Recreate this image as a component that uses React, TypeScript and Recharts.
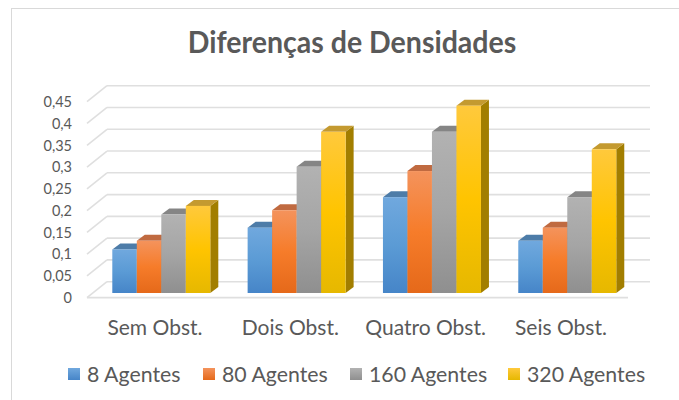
import React from 'react';
import { ComposedChart, Bar, XAxis, YAxis, Legend, CartesianGrid } from 'recharts';

const categories = ['Sem Obst.', 'Dois Obst.', 'Quatro Obst.', 'Seis Obst.'];
const agents8 = [0.1, 0.15, 0.22, 0.12];
const agents80 = [0.12, 0.19, 0.28, 0.15];
const agents160 = [0.18, 0.29, 0.37, 0.22];
const agents320 = [0.2, 0.37, 0.43, 0.33];
const yTicks = [0, 0.05, 0.1, 0.15, 0.2, 0.25, 0.3, 0.35, 0.4, 0.45];

const data = categories.map((name, i) => ({
  name,
  a8: agents8[i],
  a80: agents80[i],
  a160: agents160[i],
  a320: agents320[i],
}));

const seriesList = [
  { key: 'a8', label: '8 Agentes', id: 'gBlue', stops: ['#70a8de', '#5b9bd5', '#4685c8'], top: '#4d7ca8', side: '#3f6d9c' },
  { key: 'a80', label: '80 Agentes', id: 'gOrange', stops: ['#f4935c', '#f67c2a', '#e5691a'], top: '#c06a40', side: '#a8551f' },
  { key: 'a160', label: '160 Agentes', id: 'gGray', stops: ['#b2b2b2', '#a5a5a5', '#8f8f8f'], top: '#858585', side: '#777777' },
  { key: 'a320', label: '320 Agentes', id: 'gGold', stops: ['#ffc93c', '#ffc400', '#e6b800'], top: '#c49a30', side: '#a27e00' },
];

const DX = 8;
const DY = 6;
const GRID = '#dfdfdf';
const TEXT = '#595959';
const FONT = 'Lato, Carlito, sans-serif';

const makeBarShape = (top: string, side: string) => (p: any) => {
  const { x, y, width, height, fill } = p;
  const r = x + width;
  const b = y + height;
  return (
    <g>
      <polygon points={`${r},${y} ${r + DX},${y - DY} ${r + DX},${b - DY} ${r},${b}`} fill={side} />
      <polygon points={`${x},${y} ${x + DX},${y - DY} ${r + DX},${y - DY} ${r},${y}`} fill={top} />
      <rect x={x} y={y} width={width} height={height} fill={fill} />
    </g>
  );
};

const GridLine = (p: any) => {
  const y = p.y1;
  const front = y + 4.7;
  const back = y - 11.3;
  const isFloor = Math.abs(y - 293) < 1;
  return (
    <g key={`grid-${y}`}>
      <line x1={87} y1={front} x2={107} y2={back} stroke={GRID} strokeWidth={1.6} />
      <line x1={107} y1={back} x2={650} y2={back} stroke={GRID} strokeWidth={1.6} />
      {isFloor && <line x1={87} y1={front} x2={628} y2={front} stroke={GRID} strokeWidth={1.8} />}
    </g>
  );
};

const YTick = (p: any) => {
  const { y, payload } = p;
  return (
    <text x={72} y={y + 4.5} textAnchor="end" dominantBaseline="central" fontSize={14.5} fontFamily={FONT} fill={TEXT}>
      {String(payload.value).replace('.', ',')}
    </text>
  );
};

const LegendContent = () => (
  <div style={{ position: 'relative', height: 30, fontFamily: FONT, fontSize: 21.3, color: TEXT }}>
    {seriesList.map((s, i) => (
      <div
        key={s.key}
        style={{
          position: 'absolute',
          left: [68, 203, 350, 508][i],
          top: 0,
          display: 'flex',
          alignItems: 'center',
          height: 30,
          whiteSpace: 'nowrap',
        }}
      >
        <span
          style={{
            display: 'inline-block',
            width: 12,
            height: 12,
            marginRight: 7,
            background: `linear-gradient(${s.stops[0]}, ${s.stops[2]})`,
          }}
        />
        {s.label}
      </div>
    ))}
  </div>
);

export default function App() {
  return (
    <div style={{ position: 'absolute', left: 0, top: 0, width: 679, height: 400, background: '#fff', overflow: 'hidden' }}>
      <div
        style={{
          position: 'absolute',
          left: 11,
          top: 8,
          width: 700,
          height: 420,
          borderLeft: '1.5px solid #d9d9d9',
          borderTop: '1.5px solid #d9d9d9',
        }}
      />
      <div
        style={{
          position: 'absolute',
          left: 0,
          top: 21,
          width: 704,
          textAlign: 'center',
          fontFamily: FONT,
          fontWeight: 700,
          fontSize: 31,
          lineHeight: '40px',
          color: TEXT,
          transform: 'scaleX(0.92)',
        }}
      >
        Diferenças de Densidades
      </div>
      <div style={{ position: 'absolute', left: 0, top: 0 }}>
        <ComposedChart
          width={679}
          height={400}
          data={data}
          barGap={0}
          barSize={24.5}
          margin={{ top: 97, right: 44.4, bottom: 37, left: 3.3 }}
        >
          <defs>
            {seriesList.map((s) => (
              <linearGradient key={s.id} id={s.id} x1="0" y1="0" x2="0" y2="1">
                <stop offset="0%" stopColor={s.stops[0]} />
                <stop offset="50%" stopColor={s.stops[1]} />
                <stop offset="100%" stopColor={s.stops[2]} />
              </linearGradient>
            ))}
          </defs>
          <CartesianGrid vertical={false} horizontal={GridLine} />
          <YAxis
            width={90}
            domain={[0, 0.45]}
            ticks={yTicks}
            interval={0}
            axisLine={false}
            tickLine={false}
            tick={YTick}
          />
          <XAxis
            dataKey="name"
            height={40}
            axisLine={false}
            tickLine={false}
            interval={0}
            dx={-6}
            dy={19}
            tick={{ fontSize: 21, fontFamily: FONT, fill: TEXT }}
          />
          {seriesList.map((s) => (
            <Bar
              key={s.key}
              dataKey={s.key}
              name={s.label}
              fill={`url(#${s.id})`}
              isAnimationActive={false}
              shape={makeBarShape(s.top, s.side)}
            />
          ))}
          <Legend
            height={30}
            content={<LegendContent />}
            wrapperStyle={{ left: 0, top: 359, bottom: 'auto', width: 679 }}
          />
        </ComposedChart>
      </div>
    </div>
  );
}
